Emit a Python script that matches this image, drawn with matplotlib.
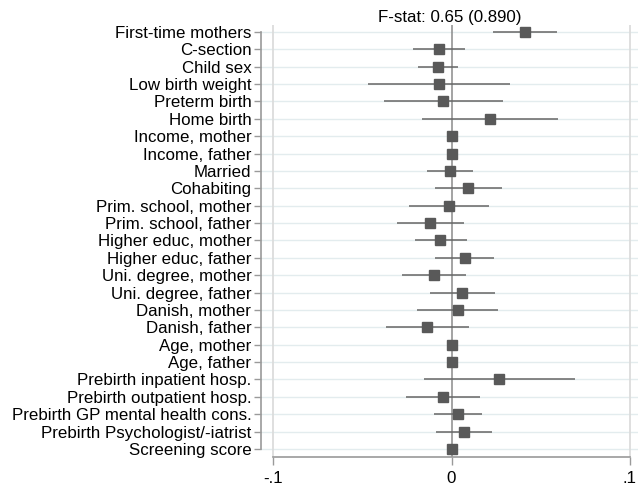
import matplotlib
matplotlib.use("Agg")
import matplotlib.pyplot as plt
import numpy as np

plt.rcParams['font.family'] = ['Liberation Sans', 'DejaVu Sans']

# covariates, top to bottom
labels = ["First-time mothers", "C-section", "Child sex", "Low birth weight",
          "Preterm birth", "Home birth", "Income, mother", "Income, father",
          "Married", "Cohabiting", "Prim. school, mother", "Prim. school, father",
          "Higher educ, mother", "Higher educ, father", "Uni. degree, mother",
          "Uni. degree, father", "Danish, mother", "Danish, father",
          "Age, mother", "Age, father", "Prebirth inpatient hosp.",
          "Prebirth outpatient hosp.", "Prebirth GP mental health cons.",
          "Prebirth Psychologist/-iatrist", "Screening score"]
coef = [0.0411, -0.0069, -0.0075, -0.0069, -0.0047, 0.0213, 0.0, 0.0,
        -0.0008, 0.0093, -0.0017, -0.0120, -0.0062, 0.0073, -0.0099,
        0.0058, 0.0034, -0.0137, 0.0004, 0.0, 0.0267, -0.0050, 0.0035,
        0.0069, 0.0]
ci_lo = [0.0230, -0.0215, -0.0187, -0.0468, -0.0376, -0.0168, -0.0003, -0.0003,
         -0.0138, -0.0092, -0.0241, -0.0308, -0.0206, -0.0092, -0.0277,
         -0.0123, -0.0191, -0.0367, 0.0001, -0.0003, -0.0155, -0.0258, -0.0099,
         -0.0088, -0.0003]
ci_hi = [0.0592, 0.0078, 0.0035, 0.0329, 0.0286, 0.0598, 0.0003, 0.0003,
         0.0121, 0.0282, 0.0209, 0.0067, 0.0086, 0.0239, 0.0080,
         0.0241, 0.0260, 0.0097, 0.0007, 0.0003, 0.0692, 0.0159, 0.0168,
         0.0224, 0.0003]
xticks = [-0.1, 0, 0.1]
xticklabels = ["-.1", "0", ".1"]
title = "F-stat: 0.65 (0.890)"

n = len(labels)
ypos = np.arange(n)[::-1]
fs = 12.2

fig = plt.figure(figsize=(6.38, 4.86), dpi=100)
ax = fig.add_axes([261/638, 1-457/486, 1-261/638, (457-25)/486])

# grid
for y in ypos:
    ax.axhline(y, color="#e3ecee", lw=1.0, zorder=0)
ax.axvline(-0.1, color="#dcdcdc", lw=1.3, zorder=0)
ax.axvline(0.1, color="#dcdcdc", lw=1.3, zorder=0)
ax.axvline(0, color="#8a8a8a", lw=1.1, zorder=1)

ax.hlines(ypos, ci_lo, ci_hi, color="#666666", lw=1.1, zorder=2)
ax.plot(coef, ypos, "s", color="#595959", ms=6.8, zorder=3)

ax.set_xlim(-0.1068, 0.1045)
ax.set_ylim(-0.46, n - 1 + 0.40)

ax.set_yticks(ypos)
ax.set_yticklabels(labels, fontsize=fs)
ax.set_xticks(xticks)
ax.set_xticklabels(xticklabels, fontsize=fs)

for s in ["top", "right"]:
    ax.spines[s].set_visible(False)
ax.spines["left"].set_bounds(0, n - 1)
ax.spines["bottom"].set_bounds(-0.1, 0.1)
ax.spines["left"].set_color("#9a9a9a")
ax.spines["bottom"].set_color("#9a9a9a")
ax.spines["left"].set_linewidth(1.2)
ax.spines["bottom"].set_linewidth(1.2)
ax.tick_params(axis="y", length=5, width=1, color="#9a9a9a", pad=2)
ax.tick_params(axis="x", length=6, width=1, color="#9a9a9a", pad=4)

ax.set_title(title, fontsize=fs, pad=1)

fig.savefig("out.png", dpi=100)
